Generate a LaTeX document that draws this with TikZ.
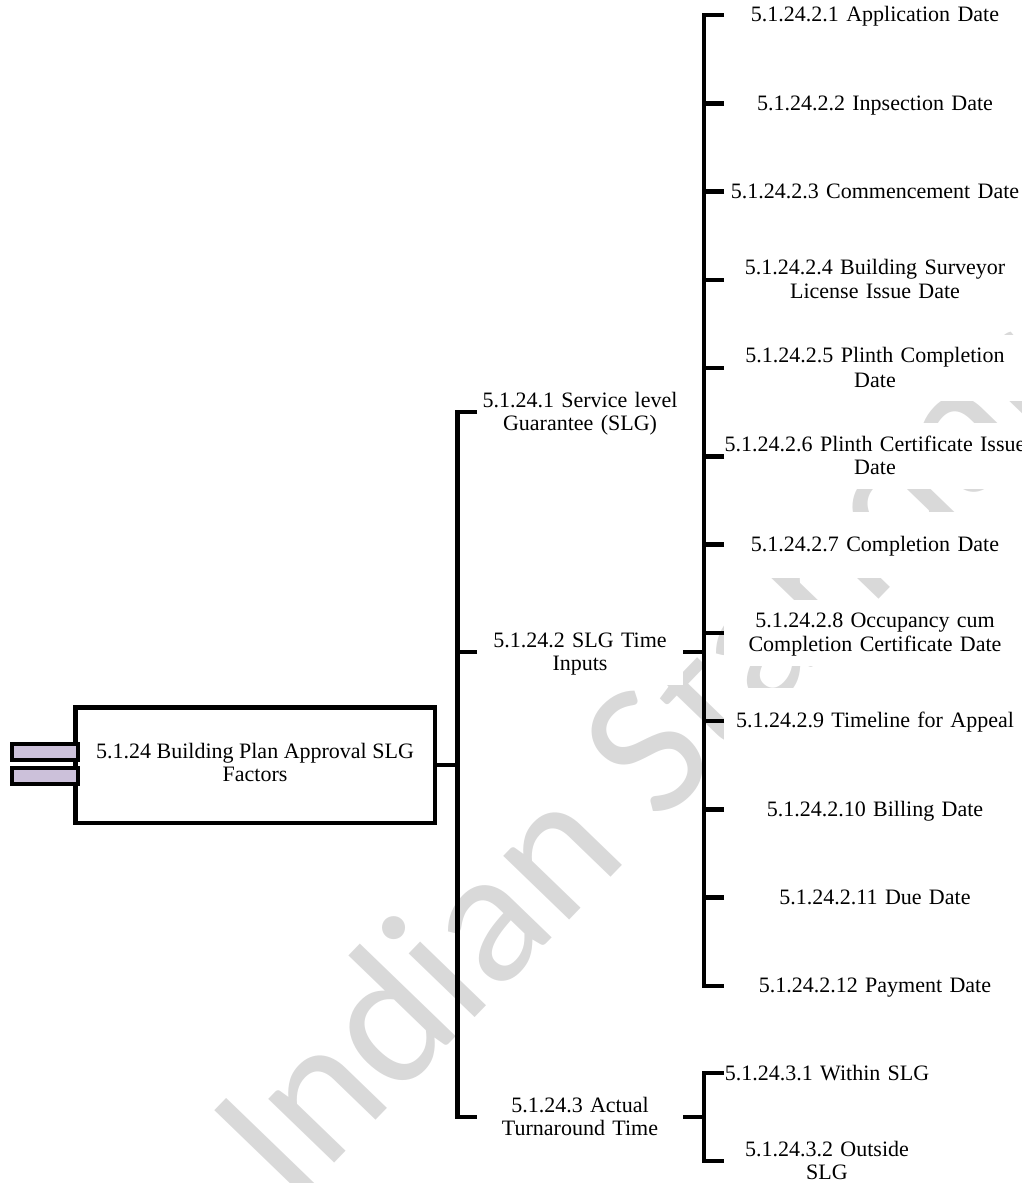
\documentclass[tikz,border=0pt]{standalone}
\usepackage{fontspec}
\setmainfont{Liberation Serif}
\newfontfamily\wmfont{Carlito}
\definecolor{lav}{HTML}{CCC1DA}
\definecolor{wmgray}{HTML}{D9D9D9}
\newcommand{\mystrut}{\rule[-4.5pt]{0pt}{23pt}}
\begin{document}
\begin{tikzpicture}[x=1pt,y=-1pt,
  every node/.style={inner sep=0pt, outer sep=0pt},
  lbl/.style={font=\fontsize{22}{23}\selectfont, align=center, fill=white,
    minimum height=66pt, execute at begin node=\mystrut, execute at end node=\mystrut},
  lvtwo/.style={lbl, text width=206pt},
  lvthree/.style={lbl, text width=302pt},
  lvthreeb/.style={lbl, text width=206pt},
  conn/.style={line width=4.5pt},
  rootbox/.style={draw, line width=4.5pt, fill=white, minimum width=359.5pt,
    minimum height=115.5pt, font=\fontsize{22}{23}\selectfont, align=center,
    execute at begin node=\mystrut, execute at end node=\mystrut},
  comp/.style={draw, line width=4pt, fill=lav, minimum width=66pt, minimum height=16pt},
  wmark/.style={font=\wmfont\fontsize{192}{192}\selectfont, text=wmgray, rotate=46, anchor=base west}
]
\useasboundingbox (0,0) rectangle (1022,1183);
% watermark
\begin{scope}
  \clip (0,0) rectangle (1022,1183);
  \node[wmark] (wm) at (292,1207) {Indian Standard};
\end{scope}
% root
\node[rootbox] (root) at (255,765) {5.1.24 Building Plan Approval SLG\\Factors};
\node[comp] (c1) at (45,752) {};
\node[comp] (c2) at (45,776) {};
% level 2
\node[lvtwo] (L1) at (580,412) {5.1.24.1 Service level\\Guarantee (SLG)};
\node[lvtwo] (L2) at (580,652) {5.1.24.2 SLG Time\\Inputs};
\node[lvtwo] (L3) at (580,1117) {5.1.24.3 Actual\\Turnaround Time};
% level 3 under 5.1.24.2
\node[lvthree] (T1) at (875,15) {5.1.24.2.1 Application Date};
\node[lvthree] (T2) at (875,103.25) {5.1.24.2.2 Inpsection Date};
\node[lvthree] (T3) at (875,191.5) {5.1.24.2.3 Commencement Date};
\node[lvthree] (T4) at (875,279.75) {5.1.24.2.4 Building Surveyor\\License Issue Date};
\node[lvthree] (T5) at (875,368) {5.1.24.2.5 Plinth Completion\\Date};
\node[lvthree] (T6) at (875,456.25) {5.1.24.2.6 Plinth Certificate Issue\\Date};
\node[lvthree] (T7) at (875,544.5) {5.1.24.2.7 Completion Date};
\node[lvthree] (T8) at (875,632.75) {5.1.24.2.8 Occupancy cum\\Completion Certificate Date};
\node[lvthree] (T9) at (875,721) {5.1.24.2.9 Timeline for Appeal};
\node[lvthree] (T10) at (875,809.25) {5.1.24.2.10 Billing Date};
\node[lvthree] (T11) at (875,897.5) {5.1.24.2.11 Due Date};
\node[lvthree] (T12) at (875,985.75) {5.1.24.2.12 Payment Date};
% level 3 under 5.1.24.3
\node[lvthreeb] (U1) at (827,1073) {5.1.24.3.1 Within SLG};
\node[lvthreeb] (U2) at (827,1161) {5.1.24.3.2 Outside\\SLG};
% connectors
\coordinate (mb) at (457.5,765);
\draw[conn] (root.east) -- (mb);
\draw[conn] (L1.west) -| (mb) |- (L3.west);
\draw[conn] (L2.west) -- ++(-19.5,0);
\draw[conn] (L2.east) -- ++(21,0) coordinate (rb);
\draw[conn] (T1.west) -| (rb) |- (T12.west);
\foreach \i in {2,...,11} \draw[conn] (T\i.west) -- ++(-20,0);
\draw[conn] (L3.east) -- ++(21,0) coordinate (rb3);
\draw[conn] (U1.west) -| (rb3) |- (U2.west);
\end{tikzpicture}
\end{document}
